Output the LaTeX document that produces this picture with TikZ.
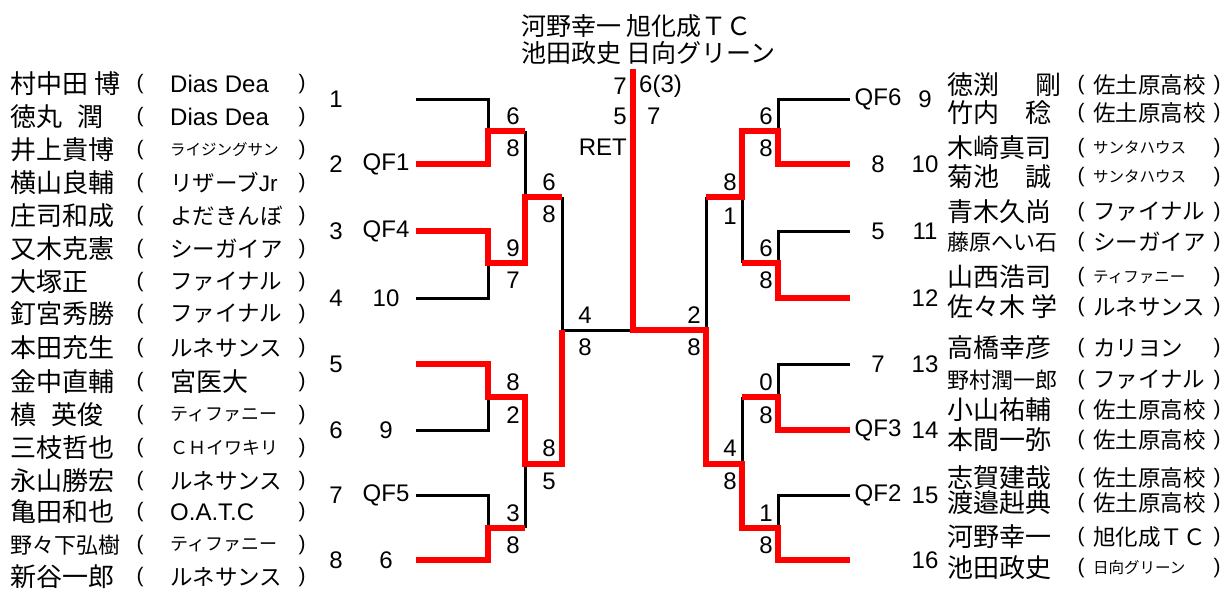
\documentclass[tikz,border=0pt]{standalone}
\usepackage{fontspec}
\setmainfont{Liberation Sans}
\newfontfamily\jp{Noto Sans CJK JP}
\tikzset{
  plain/.style={line width=3pt, black},
  won/.style={line width=5.5pt, red},
  num/.style={inner sep=0pt, font=\fontsize{24}{24}\selectfont},
  pname/.style={anchor=west, inner sep=0pt, font=\jp\fontsize{26}{26}\selectfont},
  sname/.style={pname, font=\jp\fontsize{22}{22}\selectfont},
  paren/.style={inner sep=0pt, font=\fontsize{21}{21}\selectfont},
  team/.style={anchor=west, inner sep=0pt, font=\jp\fontsize{22.5}{22.5}\selectfont},
  mteam/.style={team, font=\jp\fontsize{18}{18}\selectfont},
  steam/.style={team, font=\jp\fontsize{15.5}{16}\selectfont},
  lteam/.style={team, font=\fontsize{24}{24}\selectfont},
}
\begin{document}
\begin{tikzpicture}[x=1pt,y=-1pt]
\useasboundingbox (0,0) rectangle (1224,589);
% champion
\node[pname, font=\jp\fontsize{25}{25}\selectfont] (ch1) at (521,26){河野幸一 旭化成ＴＣ};
\node[pname, font=\jp\fontsize{25}{25}\selectfont] (ch2) at (521,53){池田政史 日向グリーン};
% bracket points
\coordinate (a1) at (416,99);
\coordinate (a2) at (416,164);
\coordinate (a3) at (416,231);
\coordinate (a4) at (416,298);
\coordinate (a5) at (416,364);
\coordinate (a6) at (416,430);
\coordinate (a7) at (416,495);
\coordinate (a8) at (416,560);
\coordinate (a9) at (850,99);
\coordinate (a10) at (850,164);
\coordinate (a11) at (850,231);
\coordinate (a12) at (850,298);
\coordinate (a13) at (850,364);
\coordinate (a14) at (850,430);
\coordinate (a15) at (850,495);
\coordinate (a16) at (850,560);
\coordinate (b1) at (488,131);
\coordinate (b2) at (488,263);
\coordinate (b3) at (488,397);
\coordinate (b4) at (488,528);
\coordinate (b5) at (778,131);
\coordinate (b6) at (778,263);
\coordinate (b7) at (778,397);
\coordinate (b8) at (778,528);
\coordinate (c1) at (525,197);
\coordinate (c2) at (525,464);
\coordinate (c3) at (742,197);
\coordinate (c4) at (742,464);
\coordinate (d1) at (562,330);
\coordinate (d2) at (706,330);
\coordinate (f) at (633,330);
\coordinate (top) at (633,69);
% losers
\draw[plain] (a1) -| (b1);
\draw[plain] (b1 -| c1) -- (c1);
\draw[plain] (a4) -| (b2);
\draw[plain] (c1 -| d1) -- (d1) -- (f);
\draw[plain] (a6) -| (b3);
\draw[plain] (a7) -| (b4);
\draw[plain] (b4 -| c2) -- (c2);
\draw[plain] (a9) -| (b5);
\draw[plain] (a11) -| (b6);
\draw[plain] (b6 -| c3) -- (c3);
\draw[plain] (c3 -| d2) -- (d2);
\draw[plain] (a13) -| (b7);
\draw[plain] (b7 -| c4) -- (c4);
\draw[plain] (a15) -| (b8);
% winners
\draw[won] (a2) -| (b1) -- (b1 -| c1);
\draw[won] (a3) -| (b2) -- (b2 -| c1) -- (c1) -- (c1 -| d1);
\draw[won] (a5) -| (b3) -- (b3 -| c2) -- (c2) -- (c2 -| d1) -- (d1);
\draw[won] (a8) -| (b4) -- (b4 -| c2);
\draw[won] (a10) -| (b5) -- (b5 -| c3) -- (c3) -- (c3 -| d2);
\draw[won] (a12) -| (b6) -- (b6 -| c3);
\draw[won] (a14) -| (b7) -- (b7 -| c4);
\draw[won] (a16) -| (b8) -- (b8 -| c4) -- (c4) -- (c4 -| d2) -- (d2) -- (f) -- (top);
% final score
\node[num, anchor=east] (fs1) at (627,86){7};
\node[num, anchor=west] (fs2) at (639,86){6(3)};
\node[num, anchor=east] (fs3) at (627,116){5};
\node[num, anchor=west] (fs4) at (647,116){7};
\node[num, anchor=east] (fs5) at (627,147){RET};
% scores left
\node[num] (sc1) at (513,116){6};
\node[num] (sc2) at (513,148){8};
\node[num] (sc3) at (513,248){9};
\node[num] (sc4) at (513,280){7};
\node[num] (sc5) at (513,382){8};
\node[num] (sc6) at (513,415){2};
\node[num] (sc7) at (513,513){3};
\node[num] (sc8) at (513,545){8};
\node[num] (sc9) at (549,182){6};
\node[num] (sc10) at (549,214){8};
\node[num] (sc11) at (549,448){8};
\node[num] (sc12) at (549,481){5};
\node[num] (sc13) at (585,315){4};
\node[num] (sc14) at (585,347){8};
% scores right
\node[num] (sc15) at (766,116){6};
\node[num] (sc16) at (766,148){8};
\node[num] (sc17) at (766,248){6};
\node[num] (sc18) at (766,280){8};
\node[num] (sc19) at (766,382){0};
\node[num] (sc20) at (766,415){8};
\node[num] (sc21) at (766,513){1};
\node[num] (sc22) at (766,545){8};
\node[num] (sc23) at (730,182){8};
\node[num] (sc24) at (730,216){1};
\node[num] (sc25) at (730,448){4};
\node[num] (sc26) at (730,481){8};
\node[num] (sc27) at (694,315){2};
\node[num] (sc28) at (694,347){8};
% seeds
\node[num] (s1) at (336,99){1};
\node[num] (s2) at (336,164){2};
\node[num] (s3) at (336,231){3};
\node[num] (s4) at (336,298){4};
\node[num] (s5) at (336,364){5};
\node[num] (s6) at (336,430){6};
\node[num] (s7) at (336,495){7};
\node[num] (s8) at (336,560){8};
\node[num] (s9) at (925,99){9};
\node[num] (s10) at (925,164){10};
\node[num] (s11) at (925,231){11};
\node[num] (s12) at (925,298){12};
\node[num] (s13) at (925,364){13};
\node[num] (s14) at (925,430){14};
\node[num] (s15) at (925,495){15};
\node[num] (s16) at (925,560){16};
\node[num] (q2) at (386,164){QF1};
\node[num] (q3) at (386,231){QF4};
\node[num] (q4) at (386,298){10};
\node[num] (q6) at (386,430){9};
\node[num] (q7) at (386,495){QF5};
\node[num] (q8) at (386,560){6};
\node[num] (q9) at (878,99){QF6};
\node[num] (q10) at (878,164){8};
\node[num] (q11) at (878,231){5};
\node[num] (q13) at (878,364){7};
\node[num] (q14) at (878,430){QF3};
\node[num] (q15) at (878,495){QF2};
% players left
\node[pname] (n1) at (10,84){村中田 博};
\node[paren] (o1) at (140,84){(}; \node[lteam] (t1) at (170,84){Dias Dea}; \node[paren] (e1) at (302,84){)};
\node[pname] (n2) at (10,117){徳丸\hspace{.6em}潤};
\node[paren] (o2) at (140,117){(}; \node[lteam] (t2) at (170,117){Dias Dea}; \node[paren] (e2) at (302,117){)};
\node[pname] (n3) at (10,150){井上貴博};
\node[paren] (o3) at (140,150){(}; \node[steam] (t3) at (170,150){ライジングサン}; \node[paren] (e3) at (302,150){)};
\node[pname] (n4) at (10,183){横山良輔};
\node[paren] (o4) at (140,183){(}; \node[team] (t4) at (170,183){リザーブ{\rmfamily Jr}}; \node[paren] (e4) at (302,183){)};
\node[pname] (n5) at (10,216){庄司和成};
\node[paren] (o5) at (140,216){(}; \node[team] (t5) at (170,216){よだきんぼ}; \node[paren] (e5) at (302,216){)};
\node[pname] (n6) at (10,249){又木克憲};
\node[paren] (o6) at (140,249){(}; \node[team] (t6) at (170,249){シーガイア}; \node[paren] (e6) at (302,249){)};
\node[pname] (n7) at (10,282){大塚正};
\node[paren] (o7) at (140,282){(}; \node[team] (t7) at (170,282){ファイナル}; \node[paren] (e7) at (302,282){)};
\node[pname] (n8) at (10,314){釘宮秀勝};
\node[paren] (o8) at (140,314){(}; \node[team] (t8) at (170,314){ファイナル}; \node[paren] (e8) at (302,314){)};
\node[pname] (n9) at (10,348){本田充生};
\node[paren] (o9) at (140,348){(}; \node[team] (t9) at (170,348){ルネサンス}; \node[paren] (e9) at (302,348){)};
\node[pname] (n10) at (10,382){金中直輔};
\node[paren] (o10) at (140,382){(}; \node[pname] (t10) at (170,382){宮医大}; \node[paren] (e10) at (302,382){)};
\node[pname] (n11) at (10,415){槙\hspace{.6em}英俊};
\node[paren] (o11) at (140,415){(}; \node[mteam] (t11) at (170,415){ティファニー}; \node[paren] (e11) at (302,415){)};
\node[pname] (n12) at (10,448){三枝哲也};
\node[paren] (o12) at (140,448){(}; \node[mteam] (t12) at (170,448){ＣＨイワキリ}; \node[paren] (e12) at (302,448){)};
\node[pname] (n13) at (10,481){永山勝宏};
\node[paren] (o13) at (140,481){(}; \node[team] (t13) at (170,481){ルネサンス}; \node[paren] (e13) at (302,481){)};
\node[pname] (n14) at (10,512){亀田和也};
\node[paren] (o14) at (140,512){(}; \node[lteam] (t14) at (170,512){O.A.T.C}; \node[paren] (e14) at (302,512){)};
\node[sname] (n15) at (10,545){野々下弘樹};
\node[paren] (o15) at (140,545){(}; \node[mteam] (t15) at (170,545){ティファニー}; \node[paren] (e15) at (302,545){)};
\node[pname] (n16) at (10,577){新谷一郎};
\node[paren] (o16) at (140,577){(}; \node[team] (t16) at (170,577){ルネサンス}; \node[paren] (e16) at (302,577){)};
% players right
\node[pname] (n17) at (947,85){徳渕\hspace{1.4em}剛};
\node[paren] (o17) at (1081,85){(}; \node[team] (t17) at (1093,85){佐土原高校}; \node[paren] (e17) at (1217,85){)};
\node[pname] (n18) at (947,113){竹内\hspace{1em}稔};
\node[paren] (o18) at (1081,113){(}; \node[team] (t18) at (1093,113){佐土原高校}; \node[paren] (e18) at (1217,113){)};
\node[pname] (n19) at (947,148){木崎真司};
\node[paren] (o19) at (1081,148){(}; \node[steam] (t19) at (1093,148){サンタハウス}; \node[paren] (e19) at (1217,148){)};
\node[pname] (n20) at (947,177){菊池\hspace{1em}誠};
\node[paren] (o20) at (1081,177){(}; \node[steam] (t20) at (1093,177){サンタハウス}; \node[paren] (e20) at (1217,177){)};
\node[pname] (n21) at (947,212){青木久尚};
\node[paren] (o21) at (1081,212){(}; \node[team] (t21) at (1093,212){ファイナル}; \node[paren] (e21) at (1217,212){)};
\node[sname] (n22) at (947,242){藤原へい石};
\node[paren] (o22) at (1081,242){(}; \node[team] (t22) at (1093,242){シーガイア}; \node[paren] (e22) at (1217,242){)};
\node[pname] (n23) at (947,277){山西浩司};
\node[paren] (o23) at (1081,277){(}; \node[steam] (t23) at (1093,277){ティファニー}; \node[paren] (e23) at (1217,277){)};
\node[pname] (n24) at (947,307){佐々木 学};
\node[paren] (o24) at (1081,307){(}; \node[team] (t24) at (1093,307){ルネサンス}; \node[paren] (e24) at (1217,307){)};
\node[pname] (n25) at (947,348){高橋幸彦};
\node[paren] (o25) at (1081,348){(}; \node[team] (t25) at (1093,348){カリヨン}; \node[paren] (e25) at (1217,348){)};
\node[sname] (n26) at (947,380){野村潤一郎};
\node[paren] (o26) at (1081,380){(}; \node[team] (t26) at (1093,380){ファイナル}; \node[paren] (e26) at (1217,380){)};
\node[pname] (n27) at (947,410){小山祐輔};
\node[paren] (o27) at (1081,410){(}; \node[team] (t27) at (1093,410){佐土原高校}; \node[paren] (e27) at (1217,410){)};
\node[pname] (n28) at (947,440){本間一弥};
\node[paren] (o28) at (1081,440){(}; \node[team] (t28) at (1093,440){佐土原高校}; \node[paren] (e28) at (1217,440){)};
\node[pname] (n29) at (947,478){志賀建哉};
\node[paren] (o29) at (1081,478){(}; \node[team] (t29) at (1093,478){佐土原高校}; \node[paren] (e29) at (1217,478){)};
\node[pname] (n30) at (947,503){渡邉赳典};
\node[paren] (o30) at (1081,503){(}; \node[team] (t30) at (1093,503){佐土原高校}; \node[paren] (e30) at (1217,503){)};
\node[pname] (n31) at (947,537){河野幸一};
\node[paren] (o31) at (1081,537){(}; \node[team] (t31) at (1093,537){旭化成ＴＣ}; \node[paren] (e31) at (1217,537){)};
\node[pname] (n32) at (947,568){池田政史};
\node[paren] (o32) at (1081,568){(}; \node[steam] (t32) at (1093,568){日向グリーン}; \node[paren] (e32) at (1217,568){)};
\end{tikzpicture}
\end{document}
